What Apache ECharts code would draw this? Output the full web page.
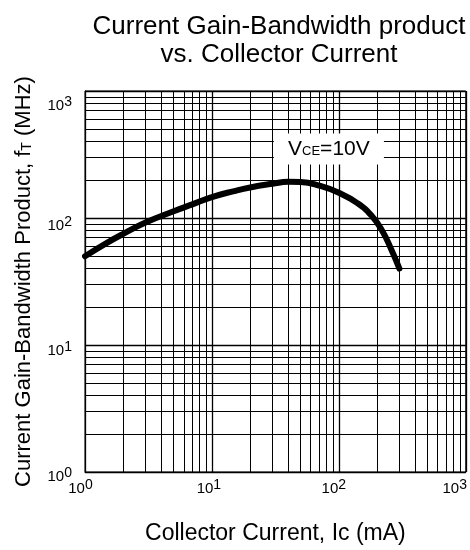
<!DOCTYPE html>
<html>
<head>
<meta charset="utf-8">
<script src="https://cdn.jsdelivr.net/npm/echarts@6/dist/echarts.min.js"></script>
<style>
html,body{margin:0;padding:0;background:#fff;}
#chart{width:470px;height:550px;}
</style>
</head>
<body>
<div id="chart"></div>
<script>
// ---- data ----
const collectorCurrentMA = [1, 1.5, 2, 3, 5, 7, 10, 15, 20, 30, 40, 50, 70, 100, 140, 180, 220, 260, 300];
const gainBandwidthMHz  = [50, 64, 75, 92, 113, 128, 146, 163, 174, 186, 193, 192, 180, 158, 131, 105, 79, 56, 40];
const decades = [1, 10, 100];
const minorMultipliers = [2, 3, 4, 5, 6, 7, 8, 9];
const xTickExponents = [0, 1, 2, 3];
const yTickExponents = [0, 1, 2, 3];
const annotationPoint = [83.5, 349];
const titleText = 'Current Gain-Bandwidth product\nvs. Collector Current';
const xAxisTitle = 'Collector Current, Ic (mA)';
const yAxisTitle = 'Current Gain-Bandwidth Product, f{t|T} (MHz)';
const annotationText = '{a|V}{b|CE}{a|=10V}';

// ---- styling ----
const FONT = '"Liberation Sans", Arial, sans-serif';
const xShiftLeft = {0: 4.5, 1: 3, 2: 5, 3: 11};
const yShiftDown = {0: 5, 1: 6, 2: 8, 3: 15};
const supRaise = 4;

const minorValues = [];
decades.forEach(d => minorMultipliers.forEach(m => minorValues.push(d * m)));

function expOf(v) { return Math.round(Math.log10(v)); }

const xRich = {};
xTickExponents.forEach(e => {
  xRich['n' + e] = {fontFamily: FONT, fontSize: 15, color: '#000'};
  xRich['s' + e] = {fontFamily: FONT, fontSize: 14, color: '#000', padding: [0, 2 * xShiftLeft[e], 2 * supRaise, 0]};
});
const yRich = {};
yTickExponents.forEach(e => {
  const s = yShiftDown[e];
  yRich['n' + e] = {fontFamily: FONT, fontSize: 15, color: '#000', padding: [2 * s, 0, 0, 0]};
  const diff = 2 * (s - supRaise);
  yRich['s' + e] = {fontFamily: FONT, fontSize: 14, color: '#000',
    padding: diff >= 0 ? [diff, 0, 0, 0] : [0, 0, -diff, 0]};
});

const chart = echarts.init(document.getElementById('chart'), null, {renderer: 'canvas'});
chart.setOption({
  animation: false,
  backgroundColor: '#fff',
  title: {
    text: titleText,
    left: 274,
    top: 8,
    textAlign: 'center',
    textStyle: {fontFamily: FONT, fontSize: 26, fontWeight: 'normal', color: '#000', lineHeight: 28}
  },
  grid: {left: 85, right: 1, top: 91, bottom: 75, show: true, borderColor: '#000', borderWidth: 1, backgroundColor: 'transparent'},
  xAxis: {
    type: 'log', logBase: 10, min: 1, max: 1000,
    name: xAxisTitle, nameLocation: 'middle', nameGap: 50,
    nameTextStyle: {fontFamily: FONT, fontSize: 23, color: '#000'},
    axisLine: {show: true, lineStyle: {color: '#000', width: 1}},
    axisTick: {show: false},
    splitLine: {show: true, lineStyle: {color: '#000', width: 1.3}},
    axisLabel: {
      margin: 6,
      formatter: v => { const e = expOf(v); return '{n' + e + '|10}{s' + e + '|' + e + '}'; },
      rich: xRich
    }
  },
  yAxis: {
    type: 'log', logBase: 10, min: 1, max: 1000,
    name: yAxisTitle, nameLocation: 'middle', nameGap: 50,
    nameTextStyle: {fontFamily: FONT, fontSize: 22, color: '#000',
      rich: {t: {fontFamily: FONT, fontSize: 14, color: '#000', padding: [6, 0, 0, 0]}}},
    axisLine: {show: true, lineStyle: {color: '#000', width: 1}},
    axisTick: {show: false},
    splitLine: {show: true, lineStyle: {color: '#000', width: 1.3}},
    axisLabel: {
      margin: 13,
      formatter: v => { const e = expOf(v); return '{n' + e + '|10}{s' + e + '|' + e + '}'; },
      rich: yRich
    }
  },
  series: [
    {
      type: 'line',
      z: 1,
      silent: true,
      data: [],
      markLine: {
        z: 1,
        silent: true,
        symbol: ['none', 'none'],
        label: {show: false},
        lineStyle: {color: '#000', width: 1, type: 'solid'},
        data: minorValues.map(v => ({xAxis: v})).concat(minorValues.map(v => ({yAxis: v})))
      }
    },
    {
      type: 'line',
      z: 3,
      smooth: 0.5,
      showSymbol: false,
      symbol: 'none',
      lineStyle: {color: '#000', width: 6, cap: 'round', join: 'round'},
      data: collectorCurrentMA.map((x, i) => [x, gainBandwidthMHz[i]]),
      markPoint: {
        z: 6,
        silent: true,
        symbol: 'rect',
        symbolSize: [110, 31],
        itemStyle: {color: '#fff'},
        label: {
          show: true, position: 'inside',
          formatter: annotationText,
          rich: {
            a: {fontFamily: FONT, fontSize: 21, color: '#000'},
            b: {fontFamily: FONT, fontSize: 13, color: '#000', padding: [5, 0, 0, 0]}
          }
        },
        data: [{coord: annotationPoint}]
      }
    }
  ]
});
</script>
</body>
</html>
